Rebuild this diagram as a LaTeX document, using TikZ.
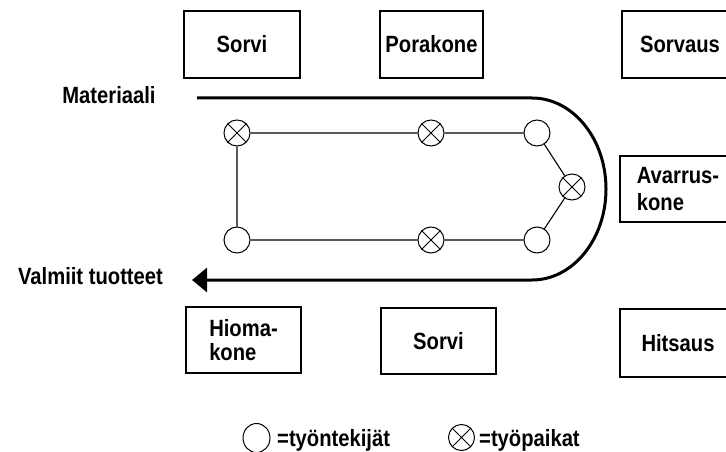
\documentclass[tikz,border=0pt]{standalone}
\usepackage{fontspec}
\newfontfamily\lblfont{Liberation Sans Bold}[FakeStretch=0.86]
\newcommand\lbltype{\lblfont\fontsize{23.5}{27}\selectfont}
\usetikzlibrary{arrows.meta,shapes.geometric}
\begin{document}
\begin{tikzpicture}[x=1pt,y=-1pt,
  machine/.style={draw, line width=1.3pt, minimum width=116pt, minimum height=67pt,
    inner sep=0pt, align=left, font=\lbltype},
  worker/.style={circle, draw, line width=1pt, minimum size=26pt, inner sep=0pt},
  station/.style={worker, path picture={
      \draw[line width=1pt]
        (path picture bounding box.north west) -- (path picture bounding box.south east)
        (path picture bounding box.north east) -- (path picture bounding box.south west);}},
  link/.style={line width=1.1pt},
  flow/.style={line width=3pt},
  txt/.style={font=\lbltype, inner sep=0pt, text height=16.5pt, text depth=0pt}
]
\clip (0,0) rectangle (726,452);

% machines around the cell
\node[machine] (sorviA)   at (242,44.5) {Sorvi};
\node[machine, minimum width=103pt] (pora) at (431.5,44.5) {Porakone};
\node[machine] (sorvaus)  at (680,44.5) {Sorvaus};
\node[machine, minimum height=66pt] (avarrus) at (678,189) {Avarrus-\\kone};
\node[machine, minimum width=115pt, minimum height=66pt] (hioma) at (243.5,340) {Hioma-\\[-3pt]kone};
\node[machine, minimum width=115pt, minimum height=66pt] (sorviB) at (438.5,341) {Sorvi};
\node[machine, minimum height=68pt] (hitsaus) at (678,343) {Hitsaus};

% material flow through the cell
\node[txt] (mat) at (109,95) {Materiaali};
\node[txt] (valmiit) at (90.5,276) {Valmiit tuotteet};
\coordinate (flowIn)  at (197,98);
\coordinate (bendTop) at (532,98);
\coordinate (flowOut) at (192,280);
\draw[flow, -{Triangle[length=15pt,width=24pt]}]
  (flowIn) -- (bendTop)
  arc[start angle=-90, end angle=90, x radius=74, y radius=91]
  -- (flowOut);

% workers and work stations
\node[station] (s1) at (237,133) {};
\node[station] (s2) at (431,133) {};
\node[worker]  (w1) at (537,133) {};
\node[station] (s3) at (572,187) {};
\node[worker]  (w2) at (537,240) {};
\node[station] (s4) at (431,240) {};
\node[worker]  (w3) at (237,240) {};
\draw[link] (s1) -- (s2) -- (w1) -- (s3) -- (w2) -- (s4) -- (w3) -- (s1);

% legend
\node[worker, ellipse, minimum width=27pt, minimum height=29pt] (legW) at (256.5,438) {};
\node[txt, anchor=west] (legWt) at (277,438) {=työntekijät};
\node[station] (legS) at (461.5,437.5) {};
\node[txt, anchor=west] (legSt) at (479,438) {=työpaikat};
\end{tikzpicture}
\end{document}
